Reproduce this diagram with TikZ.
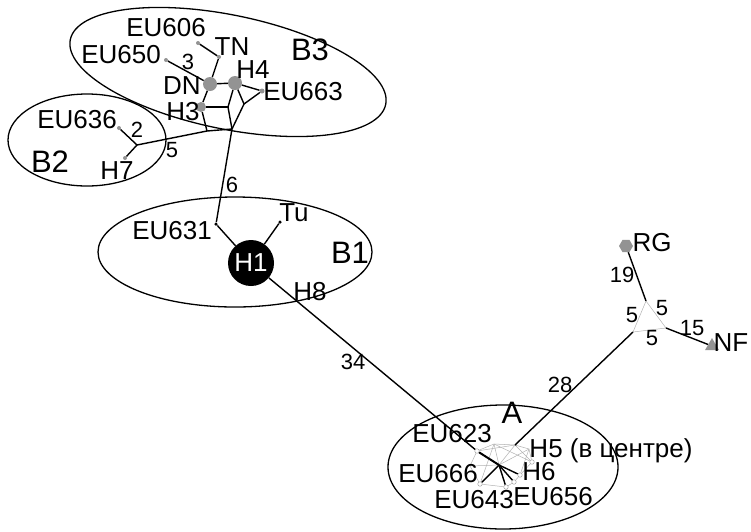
\documentclass[tikz,border=0pt]{standalone}
\usepackage{fontspec}
\setmainfont{Liberation Sans}
\usetikzlibrary{shapes.geometric}
\begin{document}
\begin{tikzpicture}[x=1pt,y=-1pt,
  lbl/.style={inner sep=0pt, font=\fontsize{26}{28}\selectfont},
  num/.style={inner sep=0pt, font=\fontsize{22}{24}\selectfont},
  big/.style={inner sep=0pt, font=\fontsize{31}{33}\selectfont},
  edge/.style={line width=1.4pt, black},
  thickedge/.style={line width=2pt, black},
  mesh/.style={line width=0.5pt, gray!60},
  grp/.style={line width=1.3pt, black},
  gdot/.style={circle, fill=gray!85, inner sep=0pt, minimum size=#1},
  gdot/.default=5pt,
  bdot/.style={circle, fill=black, inner sep=0pt, minimum size=3.5pt},
  odot/.style={circle, draw=gray!70, fill=white, line width=0.5pt, inner sep=0pt, minimum size=4.5pt},
  jn/.style={inner sep=0pt, minimum size=0pt}
]
\useasboundingbox (0,0) rectangle (751,531);

% group ellipses
\draw[grp, rotate around={-11.6:(228,72)}] (228,72) ellipse [x radius=161pt, y radius=57pt];
\draw[grp] (87,140) ellipse [x radius=79pt, y radius=46pt];
\draw[grp] (235,252) ellipse [x radius=137pt, y radius=55pt];
\draw[grp] (503,467) ellipse [x radius=115pt, y radius=62pt];

% B3 network
\node[gdot=4pt] (TN) at (219,57) {};
\node[gdot=4pt] (EU606) at (198,43) {};
\node[gdot=4pt] (EU650) at (166,60) {};
\node[gdot=14pt] (DN) at (210,84) {};
\node[gdot=14pt] (H4) at (235,83) {};
\node[gdot=10pt] (H3) at (201,107) {};
\node[gdot=5pt] (EU663) at (262,91) {};
\coordinate (J1) at (228,107);
\coordinate (J2) at (244,104);
\coordinate (J3) at (232,129);
\coordinate (J4) at (207,131);

\draw[edge] (EU606) -- (TN);
\draw[edge] (TN) -- (DN);
\draw[edge] (EU650) -- (DN);
\draw[edge] (DN) -- (H4);
\draw[edge] (DN) -- (H3);
\draw[edge] (H3) -- (J1);
\draw[edge] (H4) -- (J1);
\draw[edge] (H4) -- (J2);
\draw[edge] (J2) -- (EU663);
\draw[edge] (H4) -- (EU663);
\draw[edge] (J1) -- (J3);
\draw[edge] (J2) -- (J3);
\draw[edge] (H3) -- (J4);
\draw[edge] (J4) -- (J3);

% B2 network
\node[gdot=4pt] (EU636) at (119,128) {};
\node[gdot=4pt] (H7) at (125,158) {};
\coordinate (B2j) at (137,145);
\draw[edge] (EU636) -- (B2j);
\draw[edge] (H7) -- (B2j);
\draw[edge] (B2j) -- (J4);

% B1 network
\node[bdot] (EU631) at (216,224) {};
\node[bdot] (Tu) at (280,222) {};
\node[circle, fill=black, minimum size=46pt, inner sep=0pt, text=white, lbl] (H1) at (251,263) {H1};
\draw[edge] (J3) -- (EU631);
\draw[edge] (EU631) -- (H1);
\draw[edge] (Tu) -- (H1);

% A cluster
\coordinate (a2) at (494,444);
\coordinate (a3) at (515,445);
\coordinate (a4) at (529,449);
\coordinate (a10) at (470,466);
\coordinate (hub) at (499,465);
\node[odot] (a1) at (477,451) {};
\node[odot] (a5) at (532,462) {};
\node[odot] (a6) at (480,484) {};
\node[odot] (a7) at (506,487) {};
\node[odot] (a8) at (514,482) {};
\node[odot] (a9) at (520,475) {};
\draw[mesh] (a1) -- (a2) -- (a3) -- (a4) -- (a5) -- (a9);
\draw[mesh] (a1) -- (a3);
\draw[mesh] (a2) -- (a5);
\draw[mesh] (a2) -- (hub);
\draw[mesh] (a3) -- (hub);
\draw[mesh] (a4) -- (hub);
\draw[mesh] (a3) -- (a5);
\draw[mesh] (a1) -- (a10);
\draw[mesh] (a10) -- (a6);
\draw[mesh] (a10) -- (hub);
\draw[mesh] (a6) -- (a7);
\draw[mesh] (a7) -- (a8);
\draw[mesh] (a8) -- (a9);
\draw[mesh] (a2) -- (a6);
\draw[mesh] (a4) -- (a9);
\draw[thickedge] (a1) -- (hub);
\draw[edge] (hub) -- (a6);
\draw[edge] (hub) -- (a7);
\draw[edge] (hub) -- (a8);
\draw[edge] (hub) -- (a9);
\draw[edge] (H1) -- (a1);

% triangle group
\coordinate (T1) at (646,301);
\coordinate (T2) at (633,332);
\coordinate (T3) at (666,328);
\node[regular polygon, regular polygon sides=6, fill=gray!85, minimum size=14pt, inner sep=0pt] (RG) at (626,246) {};
\node[regular polygon, regular polygon sides=3, fill=gray!85, minimum size=16pt, inner sep=0pt] (NF) at (712,346) {};
\draw[mesh] (T1) -- (T2) -- (T3) -- (T1);
\draw[edge] (RG) -- (T1);
\draw[edge] (T3) -- (NF);
\draw[edge] (T2) -- (a3);

% labels
\node[lbl] (lEU606) at (166,28) {EU606};
\node[lbl] (lTN) at (232,47) {TN};
\node[big] (lB3) at (310,50) {B3};
\node[lbl] (lEU650) at (121,55) {EU650};
\node[num] (n3) at (188,62) {3};
\node[lbl] (lDN) at (182,86) {DN};
\node[lbl] (lH4) at (253,70) {H4};
\node[lbl] (lEU663) at (303,92) {EU663};
\node[lbl] (lH3) at (183,112) {H3};
\node[lbl] (lEU636) at (77,120) {EU636};
\node[num] (n2) at (137,130) {2};
\node[big] (lB2) at (50,162) {B2};
\node[lbl] (lH7) at (117,171) {H7};
\node[num] (n5a) at (172,150) {5};
\node[num] (n6) at (232,185) {6};
\node[lbl] (lEU631) at (172,231) {EU631};
\node[lbl] (lTu) at (294,213) {Tu};
\node[big] (lB1) at (350,253) {B1};
\node[lbl] (lH8) at (310,292) {H8};
\node[num] (n34) at (353,362) {34};
\node[num] (n28) at (560,385) {28};
\node[big] (lA) at (512,413) {A};
\node[lbl] (lEU623) at (452,434) {EU623};
\node[lbl] (lH5) at (611,451) {H5 (в центре)};
\node[lbl] (lH6) at (539,472) {H6};
\node[lbl] (lEU666) at (438,474) {EU666};
\node[lbl] (lEU643) at (474,500) {EU643};
\node[lbl] (lEU656) at (553,497) {EU656};
\node[lbl] (lRG) at (652,243) {RG};
\node[lbl] (lNF) at (731,343) {NF};
\node[num] (n19) at (622,275) {19};
\node[num] (n5b) at (632,315) {5};
\node[num] (n5c) at (662,308) {5};
\node[num] (n5d) at (652,338) {5};
\node[num] (n15) at (692,328) {15};
\end{tikzpicture}
\end{document}
